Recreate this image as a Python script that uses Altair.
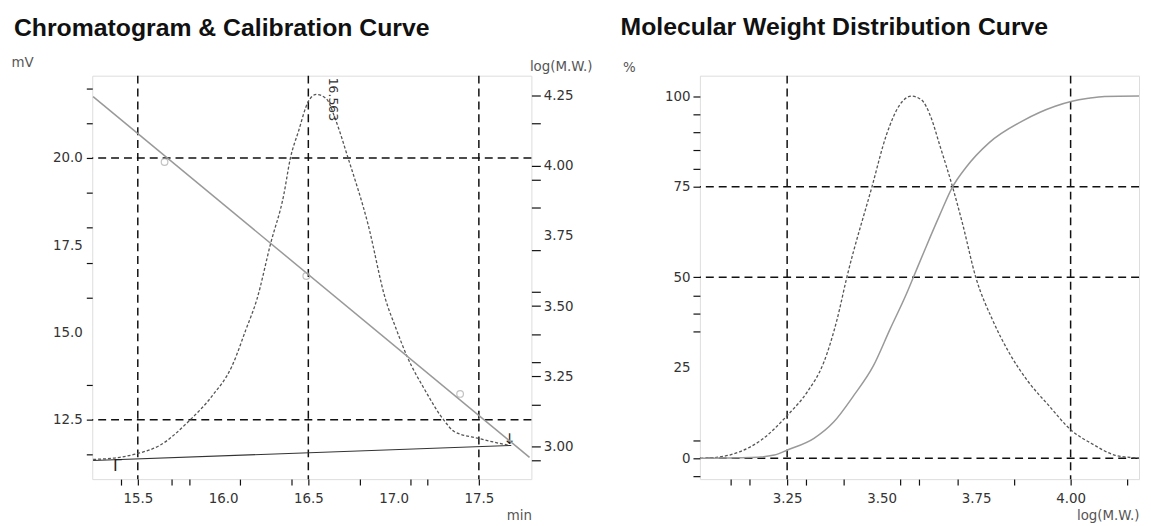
import altair as alt
import pandas as pd

# ---------------- data: chromatogram & calibration ----------------
chrom_time = [15.238, 15.395, 15.5, 15.628, 15.802, 15.936, 16.052, 16.134, 16.198, 16.279,
              16.355, 16.395, 16.442, 16.5, 16.547, 16.605, 16.663, 16.733, 16.849, 16.953,
              17.012, 17.081, 17.18, 17.297, 17.355, 17.5, 17.622, 17.68]
chrom_mv = [11.36, 11.42, 11.53, 11.76, 12.47, 13.18, 14.03, 15.08, 15.94, 17.55,
            18.92, 20.0, 20.76, 21.62, 21.82, 21.7, 21.05, 20.0, 18.12, 15.94,
            15.14, 14.29, 13.38, 12.47, 12.16, 11.96, 11.82, 11.76]
baseline_time = [15.238, 17.69]
baseline_mv = [11.33, 11.76]
peak_start_time = [15.366]
peak_start_mv = [11.35]
peak_end_time = [17.68]
peak_end_mv = [11.76]
peak_rt = [16.563]
peak_top_mv = [22.3]
peak_label = ["16.563"]
calib_time = [15.238, 17.797]
calib_logmw = [4.246, 2.961]
std_time = [15.657, 16.488, 17.39]
std_logmw = [4.013, 3.607, 3.187]
chrom_grid_time = [15.5, 16.5, 17.5]
chrom_grid_mv = [20.0, 12.5]
time_ticks = [15.4, 15.5, 15.7, 15.8, 16.0, 16.1, 16.4, 16.5, 16.8, 17.0, 17.1, 17.2, 17.5]
mv_ticks = [11.5, 12.5, 13.5, 15.0, 16.0, 17.0, 17.5, 18.0, 19.0, 20.0, 21.0, 22.0]
logmw_ticks = [2.95, 3.0, 3.15, 3.25, 3.3, 3.4, 3.5, 3.55, 3.7, 3.75, 3.85, 3.95, 4.0, 4.15, 4.25]

# ---------------- data: molecular weight distribution ----------------
diff_logmw = [3.02, 3.059, 3.129, 3.181, 3.251, 3.303, 3.347, 3.382, 3.408, 3.474, 3.513,
              3.548, 3.579, 3.605, 3.631, 3.653, 3.688, 3.714, 3.749, 3.793, 3.837, 3.889,
              3.942, 4.001, 4.055, 4.116, 4.16, 4.181]
diff_pct = [0.0, 0.2, 2.0, 5.0, 11.9, 18.3, 26.5, 38.3, 50.0, 74.8, 89.4,
            97.6, 100.0, 99.0, 94.0, 86.7, 74.8, 64.8, 50.0, 38.3, 29.2, 21.0,
            14.6, 7.8, 4.1, 0.9, 0.2, 0.0]
cum_logmw = [3.02, 3.155, 3.216, 3.251, 3.321, 3.373, 3.426, 3.478, 3.522, 3.566, 3.584,
             3.618, 3.653, 3.688, 3.723, 3.784, 3.872, 3.959, 4.001, 4.047, 4.09, 4.181]
cum_pct = [0.0, 0.2, 0.9, 2.3, 5.5, 10.0, 17.3, 25.5, 35.6, 45.5, 50.0,
           58.5, 67.0, 75.0, 80.3, 87.1, 93.1, 97.2, 98.5, 99.4, 99.9, 100.0]
mwd_grid_logmw = [3.25, 4.0]
mwd_grid_pct = [75, 50, 0]
mwd_x_ticks = [3.1, 3.15, 3.25, 3.3, 3.4, 3.5, 3.55, 3.6, 3.7, 3.75, 3.85, 4.0, 4.15]
pct_ticks = [-5, 0, 5, 25, 35, 40, 45, 50, 75, 80, 85, 90, 95, 100]

# ---------------- styling ----------------
FONT = "DejaVu Sans"
LSIZE = 13.5
W, H = 443, 407
GRID_DASH = [8, 5]

chrom_df = pd.DataFrame({"t": chrom_time, "mv": chrom_mv})
base_df = pd.DataFrame({"t": baseline_time, "mv": baseline_mv})
start_df = pd.DataFrame({"t": peak_start_time, "mv": peak_start_mv, "s": ["Γ"]})
end_df = pd.DataFrame({"t": peak_end_time, "mv": peak_end_mv, "s": ["↓"]})
plabel_df = pd.DataFrame({"t": peak_rt, "mv": peak_top_mv, "s": peak_label})
calib_df = pd.DataFrame({"t": calib_time, "lm": calib_logmw})
std_df = pd.DataFrame({"t": std_time, "lm": std_logmw})
gt_df = pd.DataFrame({"t": chrom_grid_time})
gm_df = pd.DataFrame({"mv": chrom_grid_mv})

diff_df = pd.DataFrame({"lm": diff_logmw, "p": diff_pct})
cum_df = pd.DataFrame({"lm": cum_logmw, "p": cum_pct})
gx_df = pd.DataFrame({"lm": mwd_grid_logmw})
gy_df = pd.DataFrame({"p": mwd_grid_pct})


def tick_color(test):
    return {"condition": {"test": test, "value": "transparent"}, "value": "#111"}


def lab_expr(step, fmt):
    return (f"abs(datum.value/{step} - round(datum.value/{step})) < 1e-6 ? "
            f"format(datum.value, '{fmt}') : ''")


common_axis = dict(grid=False, domain=False, labelFont=FONT, labelFontSize=LSIZE,
                   labelColor="#333", titleFont=FONT, titleFontSize=LSIZE,
                   titleFontWeight="normal", titleColor="#555", labelFlush=False,
                   tickWidth=1.2)

time_axis = alt.Axis(values=time_ticks, labelExpr=lab_expr(0.5, ".1f"), tickSize=6,
                     labelPadding=7, tickColor=tick_color("datum.value == 16 || datum.value == 17"),
                     title="min", titleX=W, titleY=37, titleAlign="right",
                     titleBaseline="middle", titleAngle=0, orient="bottom", **common_axis)
mv_axis = alt.Axis(values=mv_ticks, labelExpr=lab_expr(2.5, ".1f"), tickSize=6,
                   labelPadding=4, tickColor=tick_color("datum.value == 15 || datum.value == 17.5"),
                   title="mV", titleAngle=0, titleAlign="left", titleBaseline="middle",
                   titleX=-82, titleY=-13, orient="left", **common_axis)
lm_axis = alt.Axis(values=logmw_ticks, labelExpr=lab_expr(0.25, ".2f"), tickSize=9,
                   labelPadding=3, tickColor=tick_color("datum.value == 3.75"),
                   title="log(M.W.)", titleAngle=0, titleAlign="left", titleBaseline="middle",
                   titleX=-2, titleY=-9, orient="right", **common_axis)

xs_t = alt.Scale(domain=[15.233, 17.808], nice=False, zero=False)
ys_mv = alt.Scale(domain=[10.795, 22.358], nice=False, zero=False)
ys_lm = alt.Scale(domain=[2.8835, 4.3206], nice=False, zero=False)


def XT():
    return alt.X("t:Q", scale=xs_t, axis=time_axis)


def YMV():
    return alt.Y("mv:Q", scale=ys_mv, axis=mv_axis)


def YLM():
    return alt.Y("lm:Q", scale=ys_lm, axis=lm_axis)


peak = alt.Chart(chrom_df).mark_line(color="#555", strokeWidth=1.3, strokeDash=[3, 2],
                                     interpolate="monotone").encode(x=XT(), y=YMV())
base = alt.Chart(base_df).mark_line(color="#333", strokeWidth=1.1).encode(x=XT(), y=YMV())
gvert = alt.Chart(gt_df).mark_rule(color="#111", strokeWidth=1.5, strokeDash=GRID_DASH).encode(x=XT())
ghor = alt.Chart(gm_df).mark_rule(color="#111", strokeWidth=1.5, strokeDash=GRID_DASH).encode(y=YMV())
start_m = alt.Chart(start_df).mark_text(font=FONT, fontSize=16, color="#222", align="left",
                                        baseline="top", dx=-2, dy=-2).encode(x=XT(), y=YMV(), text="s:N")
end_m = alt.Chart(end_df).mark_text(font=FONT, fontSize=15, color="#222", align="center",
                                    baseline="bottom", dy=2).encode(x=XT(), y=YMV(), text="s:N")
plabel = alt.Chart(plabel_df).mark_text(font=FONT, fontSize=12.5, color="#333", angle=90,
                                        align="left", baseline="middle", dy=-14).encode(
    x=XT(), y=YMV(), text="s:N")
mv_layer = alt.layer(gvert, ghor, peak, base, start_m, end_m, plabel)

calib = alt.Chart(calib_df).mark_line(color="#999", strokeWidth=1.5).encode(x=XT(), y=YLM())
stds = alt.Chart(std_df).mark_point(shape="circle", filled=False, color="#aaa", size=45,
                                    strokeWidth=1.2).encode(x=XT(), y=YLM())
lm_layer = alt.layer(calib, stds)

left = alt.layer(mv_layer, lm_layer).resolve_scale(y="independent").properties(
    width=W, height=H,
    title=alt.TitleParams("Chromatogram & Calibration Curve", anchor="start", frame="group",
                          dx=-79, dy=15, fontSize=25, font="Liberation Sans", fontWeight="bold",
                          color="#111", baseline="alphabetic", offset=10))

# ---------------- right panel ----------------
mw_axis = alt.Axis(values=mwd_x_ticks, labelExpr=lab_expr(0.25, ".2f"), tickSize=6,
                   labelPadding=7, tickColor=tick_color("datum.value == 3.5 || datum.value == 3.75"),
                   title="log(M.W.)", titleX=W, titleY=37, titleAlign="right",
                   titleBaseline="middle", titleAngle=0, orient="bottom", **common_axis)
pct_axis = alt.Axis(values=pct_ticks, labelExpr=lab_expr(25, "d"),
                    tickSize=7, labelPadding=3, tickColor=tick_color("datum.value == 25"),
                    title="%", titleAngle=0, titleAlign="left", titleBaseline="middle",
                    titleX=-78, titleY=-8, orient="left", **common_axis)
xs_m = alt.Scale(domain=[3.0192, 4.181], nice=False, zero=False)
ys_p = alt.Scale(domain=[-5.75, 105.64], nice=False, zero=False)


def XM():
    return alt.X("lm:Q", scale=xs_m, axis=mw_axis)


def YP():
    return alt.Y("p:Q", scale=ys_p, axis=pct_axis)


diff = alt.Chart(diff_df).mark_line(color="#555", strokeWidth=1.3, strokeDash=[3, 2],
                                    interpolate="monotone").encode(x=XM(), y=YP())
cum = alt.Chart(cum_df).mark_line(color="#999", strokeWidth=1.5,
                                  interpolate="monotone").encode(x=XM(), y=YP())
gx = alt.Chart(gx_df).mark_rule(color="#111", strokeWidth=1.5, strokeDash=GRID_DASH).encode(x=XM())
gy = alt.Chart(gy_df).mark_rule(color="#111", strokeWidth=1.5, strokeDash=GRID_DASH).encode(y=YP())

right = alt.layer(gx, gy, diff, cum).properties(
    width=W, height=H,
    title=alt.TitleParams("Molecular Weight Distribution Curve", anchor="start", frame="group",
                          dx=-80, dy=9, fontSize=25, font="Liberation Sans", fontWeight="bold",
                          color="#111", baseline="alphabetic", offset=10))

chart = alt.hconcat(left, right, spacing=170, bounds="flush").properties(
    padding={"left": 2, "top": 4, "right": 0, "bottom": 0}
).configure_view(stroke="#111", strokeWidth=1.6).configure(background="white")

chart.save("out.html", embed_options={"renderer": "svg", "actions": False})
